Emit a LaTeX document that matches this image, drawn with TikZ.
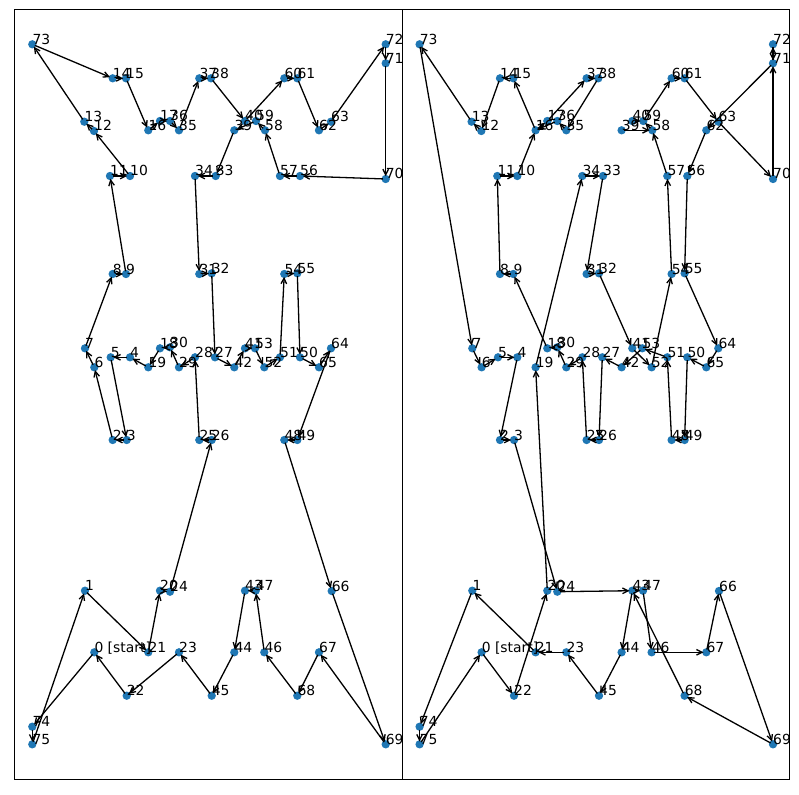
\documentclass[tikz,border=0pt]{standalone}
\usepackage{fontspec}
\setmainfont{DejaVu Sans}
\usetikzlibrary{arrows.meta}
\definecolor{dotblue}{HTML}{1F77B4}
\tikzset{
  site/.style={fill=dotblue, draw=none},
  lbl/.style={anchor=base west, inner sep=0pt, font=\fontsize{13.9}{16}\selectfont},
  hop/.style={-{Straight Barb[length=5.6pt,width=5.6pt]}, line width=1.3pt,
              shorten <=2.8pt, shorten >=2.8pt},
  frame/.style={line width=1.1pt}
}
\begin{document}
\begin{tikzpicture}[x=1pt, y=-1pt]
\useasboundingbox (0,0) rectangle (799,794);
% site positions (left panel), right panel is shifted by 387.3
\foreach \i/\x/\y in {
 0/94.3/652.3, 1/85/590.7, 2/112.7/440, 3/126.7/440, 4/130/357.3, 5/110.7/357.3,
 6/94.3/367.3, 7/85/348.3, 8/112.7/274, 9/126/274, 10/130/176, 11/110/176,
 12/94/131, 13/84.3/121.7, 14/112.7/78.3, 15/126/78.3, 16/148.3/130.3, 17/160/121,
 18/160/348.3, 19/148.3/367.3, 20/160/590.7, 21/148.3/652.3, 22/126.7/695.7,
 23/179/652.3, 24/170/591.7, 25/199.3/440, 26/211.7/440, 27/215/357.3, 28/195/357.3,
 29/179/367.3, 30/170/347.3, 31/199.3/274, 32/211.7/273.3, 33/215.7/176, 34/195/176,
 35/179/130.3, 36/170/121, 37/199.3/78.3, 38/211/78.3, 39/234.3/130.3, 40/245/121,
 41/245/348.3, 42/234.3/367.3, 43/245/590.7, 44/234.3/652.3, 45/211.7/695.7,
 46/264.3/652.3, 47/255.7/590.7, 48/284.3/440, 49/297.3/440, 50/300/357.3,
 51/280/357.3, 52/264.3/367.3, 53/255/348.3, 54/284.3/274, 55/297.3/273.3,
 56/300/176, 57/280/176, 58/265/130.3, 59/256/121, 60/284.3/78.3, 61/297.3/78.3,
 62/319/130.3, 63/331/121.7, 64/331/348.3, 65/319/367.3, 66/331.7/591,
 67/319/652.3, 68/297.3/695.7, 69/385.7/744.3, 70/385.7/179, 71/385.7/63.3,
 72/385.7/44.3, 73/32.3/44.3, 74/32.3/726.7, 75/32.3/744.3}{
  \coordinate (L\i) at (\x,\y);
  \coordinate (R\i) at (\x+387.3,\y);
}
% axes frames
\draw[frame] (14.8,9.2) rectangle (402.2,779.3);
\draw[frame] (402.2,9.2) rectangle (789.5,779.3);
% sites
\foreach \i in {0,...,75}{
  \fill[site] (L\i) circle (4.17);
  \fill[site] (R\i) circle (4.17);
}
% left tour
\foreach \a/\b in {0/74, 74/75, 75/1, 1/21, 21/20, 20/24, 24/26, 26/25, 25/28,
 28/29, 29/30, 30/18, 18/19, 19/4, 4/5, 5/3, 3/2, 2/6, 6/7, 7/8, 8/9, 9/11,
 11/10, 10/12, 12/13, 13/73, 73/14, 14/15, 15/16, 16/17, 17/36, 36/35, 35/37,
 37/38, 38/40, 40/60, 60/61, 61/62, 62/63, 63/72, 72/71, 71/70, 70/56, 56/57,
 57/58, 58/59, 59/39, 39/33, 33/34, 34/31, 31/32, 32/27, 27/42, 42/41, 41/53,
 53/52, 52/51, 51/54, 54/55, 55/50, 50/65, 65/64, 64/49, 49/48, 48/66, 66/69,
 69/67, 67/68, 68/46, 46/47, 47/43, 43/44, 44/45, 45/23, 23/22, 22/0}{
  \draw[hop] (L\a) -- (L\b);
}
% right tour
\foreach \a/\b in {0/22, 22/20, 20/19, 19/34, 34/33, 33/31, 31/32, 32/41,
 41/52, 52/54, 54/57, 57/58, 58/59, 59/60, 60/61, 61/63, 63/70, 70/71, 71/72,
 72/71, 71/62, 62/56, 56/55, 55/64, 64/65, 65/50, 50/49, 49/48, 48/51, 51/53,
 53/42, 42/27, 27/26, 26/25, 25/28, 28/29, 29/30, 30/18, 18/9, 9/8, 8/11,
 11/10, 10/16, 16/15, 15/14, 14/12, 12/13, 13/73, 73/7, 7/6, 6/5, 5/4, 4/2,
 2/3, 3/24, 24/43, 43/44, 44/45, 45/23, 23/21, 21/1, 1/74, 74/75, 75/0,
 43/47, 47/46, 46/67, 67/66, 66/69, 69/68, 68/43, 16/17, 17/37, 37/38,
 38/35, 35/36, 36/16, 39/58, 40/59}{
  \draw[hop] (R\a) -- (R\b);
}
% labels
\foreach \p in {L,R}{
  \node[lbl] (\p t0) at (\p0) {0 [start]};
  \foreach \i in {1,...,75}{
    \node[lbl] (\p t\i) at (\p\i) {\i};
  }
}
\end{tikzpicture}
\end{document}
